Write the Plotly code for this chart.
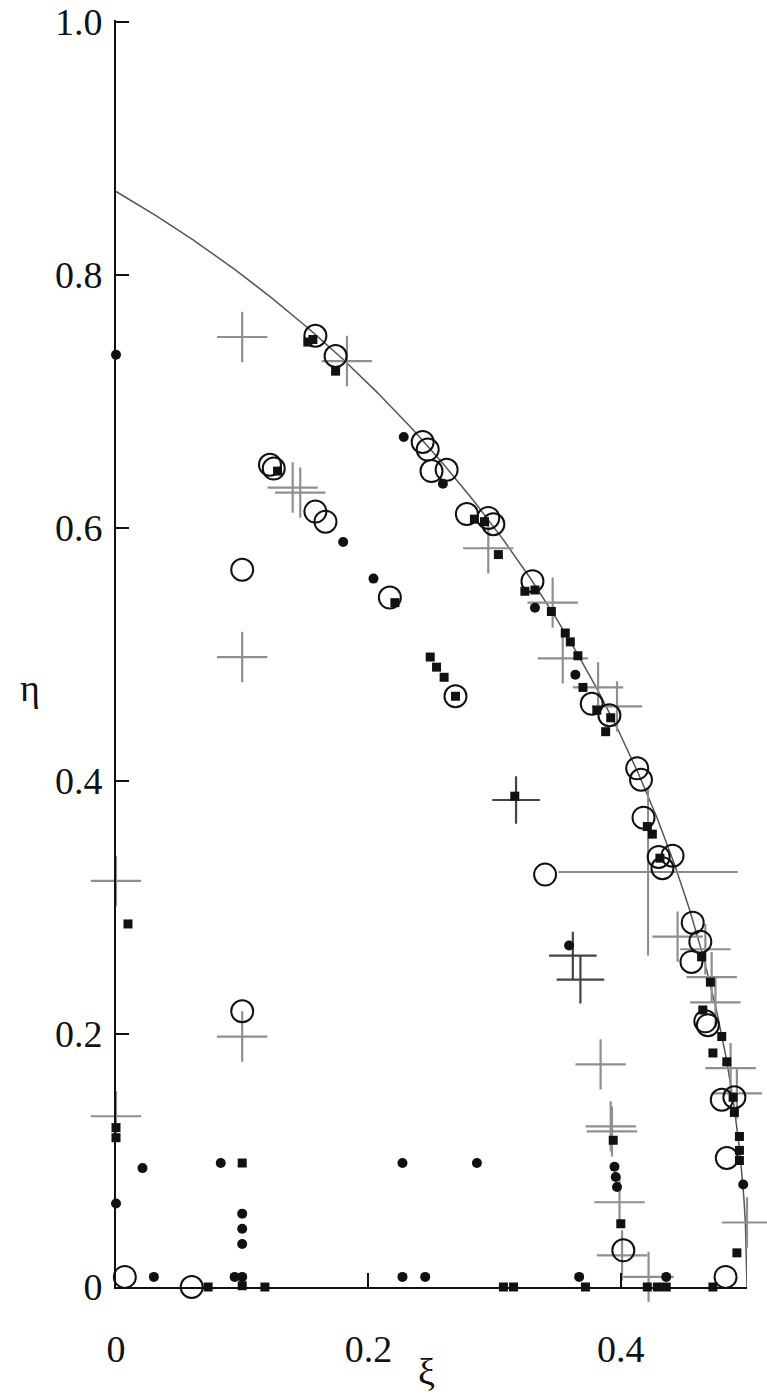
import numpy as np
import plotly.graph_objects as go

# ---- data ----
open_xi = [0.158, 0.174, 0.243, 0.247, 0.250, 0.262, 0.278, 0.295, 0.299, 0.330,
           0.377, 0.391, 0.413, 0.416, 0.418, 0.430, 0.441, 0.433, 0.457, 0.463,
           0.456, 0.467, 0.469, 0.480, 0.490, 0.484, 0.483, 0.402, 0.340,
           0.122, 0.125, 0.158, 0.166, 0.217, 0.269, 0.100, 0.100, 0.007, 0.060]
open_eta = [0.752, 0.736, 0.668, 0.662, 0.645, 0.646, 0.611, 0.608, 0.603, 0.558,
            0.461, 0.452, 0.410, 0.401, 0.371, 0.340, 0.341, 0.331, 0.288, 0.273,
            0.257, 0.210, 0.207, 0.148, 0.150, 0.102, 0.008, 0.029, 0.326,
            0.650, 0.647, 0.613, 0.605, 0.545, 0.467, 0.567, 0.218, 0.008, 0.000]

dot_xi = [0.000, 0.021, 0.000, 0.030, 0.083, 0.094, 0.100, 0.100, 0.100, 0.100,
          0.227, 0.286, 0.227, 0.245, 0.367, 0.436, 0.228, 0.259, 0.180, 0.204,
          0.332, 0.364, 0.359, 0.395, 0.396, 0.397, 0.497]
dot_eta = [0.737, 0.094, 0.066, 0.008, 0.098, 0.008, 0.008, 0.058, 0.046, 0.034,
           0.098, 0.098, 0.008, 0.008, 0.008, 0.008, 0.672, 0.635, 0.589, 0.560,
           0.537, 0.484, 0.270, 0.095, 0.087, 0.079, 0.081]

sq_xi = [0.0095, 0.000, 0.000, 0.073, 0.100, 0.100, 0.118, 0.307, 0.315, 0.372,
         0.421, 0.429, 0.436, 0.473, 0.492, 0.400, 0.394,
         0.152, 0.156, 0.174, 0.284, 0.292, 0.303, 0.324, 0.332, 0.345, 0.356,
         0.360, 0.366, 0.370, 0.381, 0.392, 0.388, 0.421, 0.425, 0.431, 0.464,
         0.471, 0.465, 0.480, 0.473, 0.484, 0.489, 0.490, 0.494, 0.494, 0.494,
         0.128, 0.221, 0.249, 0.254, 0.260, 0.269, 0.316]
sq_eta = [0.287, 0.126, 0.118, 0.000, 0.098, 0.001, 0.000, 0.000, 0.000, 0.000,
          0.000, 0.000, 0.000, 0.000, 0.027, 0.050, 0.116,
          0.747, 0.749, 0.724, 0.607, 0.605, 0.579, 0.550, 0.551, 0.534, 0.517,
          0.510, 0.499, 0.474, 0.456, 0.450, 0.439, 0.364, 0.358, 0.339, 0.261,
          0.241, 0.219, 0.198, 0.185, 0.178, 0.150, 0.138, 0.119, 0.108, 0.100,
          0.645, 0.541, 0.498, 0.490, 0.482, 0.467, 0.388]

plus_xi = [0.100, 0.183, 0.140, 0.146, 0.100, 0.000, 0.100, 0.000, 0.295, 0.346,
           0.354, 0.382, 0.397, 0.445, 0.467, 0.472, 0.475, 0.487, 0.492, 0.501,
           0.500, 0.502, 0.384, 0.392, 0.393, 0.399, 0.401, 0.422]
plus_eta = [0.751, 0.732, 0.632, 0.628, 0.498, 0.321, 0.198, 0.135, 0.584, 0.541,
            0.497, 0.474, 0.459, 0.277, 0.267, 0.245, 0.225, 0.173, 0.153, 0.094,
            0.051, 0.025, 0.176, 0.127, 0.123, 0.067, 0.025, 0.008]

dark_plus_xi = [0.362, 0.368, 0.317]
dark_plus_eta = [0.262, 0.243, 0.385]

err_xi = [0.4216]
err_eta = [0.328]
err_dxi = [0.071]
err_deta = [0.066]

x_ticks = [0, 0.2, 0.4]
x_tick_text = ["0", "0.2", "0.4"]
y_ticks = [0, 0.2, 0.4, 0.6, 0.8, 1.0]
y_tick_text = ["0", "0.2", "0.4", "0.6", "0.8", "1.0"]

# theoretical boundary: circle of unit radius centred at xi = -0.5
bound_xi = np.linspace(0, 0.5, 400)
bound_eta = np.sqrt(np.clip(1 - (bound_xi + 0.5) ** 2, 0, None))

fig = go.Figure()
fig.add_trace(go.Scatter(x=bound_xi, y=bound_eta, mode="lines",
                         line=dict(color="#555555", width=1.5), hoverinfo="skip"))
fig.add_trace(go.Scatter(x=err_xi, y=err_eta, mode="markers",
                         marker=dict(size=1, color="rgba(0,0,0,0)"),
                         error_x=dict(type="data", array=err_dxi, color="#8a8a8a", thickness=2, width=0),
                         error_y=dict(type="data", array=err_deta, color="#8a8a8a", thickness=2, width=0)))
fig.add_trace(go.Scatter(x=plus_xi, y=plus_eta, mode="markers",
                         marker=dict(symbol="cross-thin", size=36, color="#8f8f8f",
                                     line=dict(color="#8f8f8f", width=2.2))))
fig.add_trace(go.Scatter(x=dark_plus_xi, y=dark_plus_eta, mode="markers",
                         marker=dict(symbol="cross-thin", size=34, color="#444444",
                                     line=dict(color="#444444", width=2.2))))
fig.add_trace(go.Scatter(x=open_xi, y=open_eta, mode="markers",
                         marker=dict(symbol="circle-open", size=22, color="#111111",
                                     line=dict(color="#111111", width=2))))
fig.add_trace(go.Scatter(x=dot_xi, y=dot_eta, mode="markers",
                         marker=dict(symbol="circle", size=10, color="#111111")))
fig.add_trace(go.Scatter(x=sq_xi, y=sq_eta, mode="markers",
                         marker=dict(symbol="square", size=9, color="#111111")))
# invisible carrier trace for the label-only overlay x axis
fig.add_trace(go.Scatter(x=x_ticks, y=[0] * len(x_ticks), xaxis="x2", mode="markers",
                         marker=dict(size=1, color="rgba(0,0,0,0)"), hoverinfo="skip"))

for tr in fig.data:
    tr.cliponaxis = False

font = dict(family="Liberation Serif, Times New Roman, DejaVu Serif, serif", size=38, color="#111111")
fig.update_layout(
    width=767, height=1396,
    margin=dict(l=116, r=20, t=20, b=109),
    paper_bgcolor="white", plot_bgcolor="white",
    showlegend=False, font=font,
    xaxis=dict(range=[0, 0.5], showgrid=False, zeroline=False, showline=True,
               automargin=False, showticklabels=False,
               linecolor="#111111", linewidth=2, ticks="inside", ticklen=14,
               tickwidth=2, tickcolor="#111111", tickvals=x_ticks),
    xaxis2=dict(range=[0, 0.5], overlaying="x", anchor="y", side="bottom",
                showgrid=False, zeroline=False, showline=False, automargin=False,
                ticks="outside", ticklen=28, tickcolor="rgba(0,0,0,0)",
                tickvals=x_ticks, ticktext=x_tick_text, tickfont=font),
    yaxis=dict(range=[0, 1.0016], showgrid=False, zeroline=False, showline=True,
               automargin=False, tickfont=font, ticklabelstandoff=4,
               ticklabeloverflow="allow",
               linecolor="#111111", linewidth=2, ticks="inside", ticklen=13,
               tickwidth=2, tickcolor="#111111", tickvals=y_ticks, ticktext=y_tick_text),
    annotations=[
        dict(text="η", xref="paper", yref="paper", x=-0.1363, y=0.4728,
             xanchor="center", yanchor="middle", showarrow=False, font=font),
        dict(text="ξ", xref="paper", yref="paper", x=0.4913, y=-0.0671,
             xanchor="center", yanchor="middle", showarrow=False, font=font),
    ],
)
fig.write_html("out.html", config={"displayModeBar": False},
               post_script="document.body.style.margin='0';")
